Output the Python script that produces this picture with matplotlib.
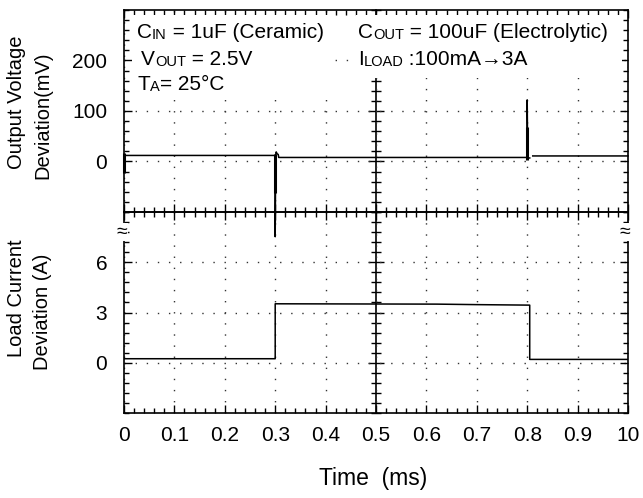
import numpy as np
import matplotlib
matplotlib.use('Agg')
import matplotlib.pyplot as plt
from matplotlib.ticker import MultipleLocator
from matplotlib.patches import Rectangle

plt.rcParams['font.family'] = ['Liberation Sans', 'DejaVu Sans']

# Time axis
X_TICKS = [0, 0.1, 0.2, 0.3, 0.4, 0.5, 0.6, 0.7, 0.8, 0.9, 1.0]
X_LABELS = ['0', '0.1', '0.2', '0.3', '0.4', '0.5', '0.6', '0.7', '0.8', '0.9', '10']

# Output voltage deviation trace (mV)
volt_t = [0.000, 0.300, 0.300, 0.301, 0.302, 0.304, 0.306, 0.307, 0.800, 0.800, 0.801, 0.805, np.nan, 0.811, 1.000]
volt_mv = [12, 12, -149, 14, 19, 15, 14, 8, 8, 122, 7, 7, np.nan, 11, 11]
# thick (persistence) parts of the transients
burst_t = [0.000, 0.300, 0.800]
burst_lo = [-23, -62, 3]
burst_hi = [17, 14, 68]

# Load current trace (A)
cur_t = [0.000, 0.300, 0.300, 0.620, 0.700, 0.805, 0.805, 1.000]
cur_a = [0.24, 0.24, 3.52, 3.50, 3.47, 3.44, 0.20, 0.20]

V_TICKS = [0, 100, 200]
I_TICKS = [0, 3, 6]

W, H = 643, 498


def fx(px):
    return px / W


def fy(py):
    return 1 - py / H


fig = plt.figure(figsize=(6.43, 4.98), dpi=100)
left, right, top, mid, bot = fx(124), fx(628), fy(10), fy(212), fy(413)
ax1 = fig.add_axes([left, mid, right - left, top - mid])
ax2 = fig.add_axes([left, bot, right - left, mid - bot], sharex=ax1)
ax1.set_zorder(2)
ax1.patch.set_visible(False)

grid_style = dict(ls=(0, (1, 7)), lw=1.0, color='#333333')

for ax in (ax1, ax2):
    ax.set_axisbelow(True)
    ax.set_xlim(0, 1)
    ax.set_xticks(X_TICKS)
    ax.xaxis.set_minor_locator(MultipleLocator(0.02))
    ax.grid(True, which='major', **grid_style)
    ax.tick_params(which='both', direction='in', top=True, right=True,
                   width=1.0, labelsize=15)
    ax.tick_params(which='major', length=6)
    ax.tick_params(which='minor', length=3.5)
    for sp in ax.spines.values():
        sp.set_linewidth(1.2)

ax1.set_ylim(-100, 300)
ax1.set_yticks(V_TICKS)
ax1.yaxis.set_minor_locator(MultipleLocator(20))
ax1.tick_params(labelbottom=False)
ax1.tick_params(axis='y', pad=12)

ax2.set_ylim(-3, 9)
ax2.set_yticks(I_TICKS)
ax2.yaxis.set_minor_locator(MultipleLocator(0.6))
ax2.set_xticklabels(X_LABELS)
ax2.tick_params(axis='y', pad=12)
ax2.tick_params(axis='x', pad=9)

# centre cross-hair with ticks on both sides
for ax, step in ((ax1, 20), (ax2, 0.6)):
    sec = ax.secondary_yaxis(0.5)
    sec.set_yticks(ax.get_yticks())
    sec.yaxis.set_minor_locator(MultipleLocator(step))
    sec.tick_params(which='both', direction='inout', labelright=False, labelleft=False, width=1.0)
    sec.tick_params(which='major', length=11)
    sec.tick_params(which='minor', length=7)
    for sp in sec.spines.values():
        sp.set_linewidth(1.2)

# white boxes behind the condition text
ax1.add_patch(Rectangle((0.015, 125), 0.395, 165, facecolor='white', edgecolor='none', zorder=1))
ax1.add_patch(Rectangle((0.46, 165), 0.528, 125, facecolor='white', edgecolor='none', zorder=1))

# traces
ax1.plot(volt_t, volt_mv, color='black', lw=1.1, clip_on=False, zorder=3)
ax1.vlines(burst_t, burst_lo, burst_hi, color='black', lw=2.2, clip_on=False, zorder=3)
ax2.plot(cur_t, cur_a, color='black', lw=1.1, zorder=3)


def cond_text(ax, x, y, parts, size=15, subsize=10.5):
    first = ax.text(x, y, parts[0], fontsize=size, ha='left', va='baseline', zorder=5)
    prev = first
    for i, s in enumerate(parts[1:]):
        fs = subsize if i % 2 == 0 else size
        prev = ax.annotate(s, xy=(1, 0), xycoords=(prev, first), fontsize=fs,
                           ha='left', va='bottom', zorder=5)


cond_text(ax1, 0.026, 244, ['C', 'IN', ' = 1uF (Ceramic)'])
cond_text(ax1, 0.034, 191, ['V', 'OUT', ' = 2.5V'])
cond_text(ax1, 0.026, 142, ['T', 'A', '= 25°C'])
cond_text(ax1, 0.464, 244, ['C', 'OUT', ' = 100uF (Electrolytic)'])
cond_text(ax1, 0.464, 191, ['I', 'LOAD', ' :100mA→3A'])

# axis labels
fig.text(fx(17), fy(102), 'Output Voltage', rotation=90, ha='center', va='center', fontsize=14.5)
fig.text(fx(43), fy(115), 'Deviation(mV)', rotation=90, ha='center', va='center', fontsize=14.5)
fig.text(fx(17), fy(298), 'Load Current', rotation=90, ha='center', va='center', fontsize=14.5)
fig.text(fx(43), fy(312), 'Deviation (A)', rotation=90, ha='center', va='center', fontsize=14.5)
fig.text(fx(373), fy(478), 'Time  (ms)', ha='center', va='center', fontsize=16.5)

# axis break marks
for px in (122, 625):
    fig.text(fx(px), fy(232), '≈', ha='center', va='center', fontsize=14,
             bbox=dict(facecolor='white', edgecolor='none', pad=0.5), zorder=10)

fig.savefig('out.png', dpi=100)
